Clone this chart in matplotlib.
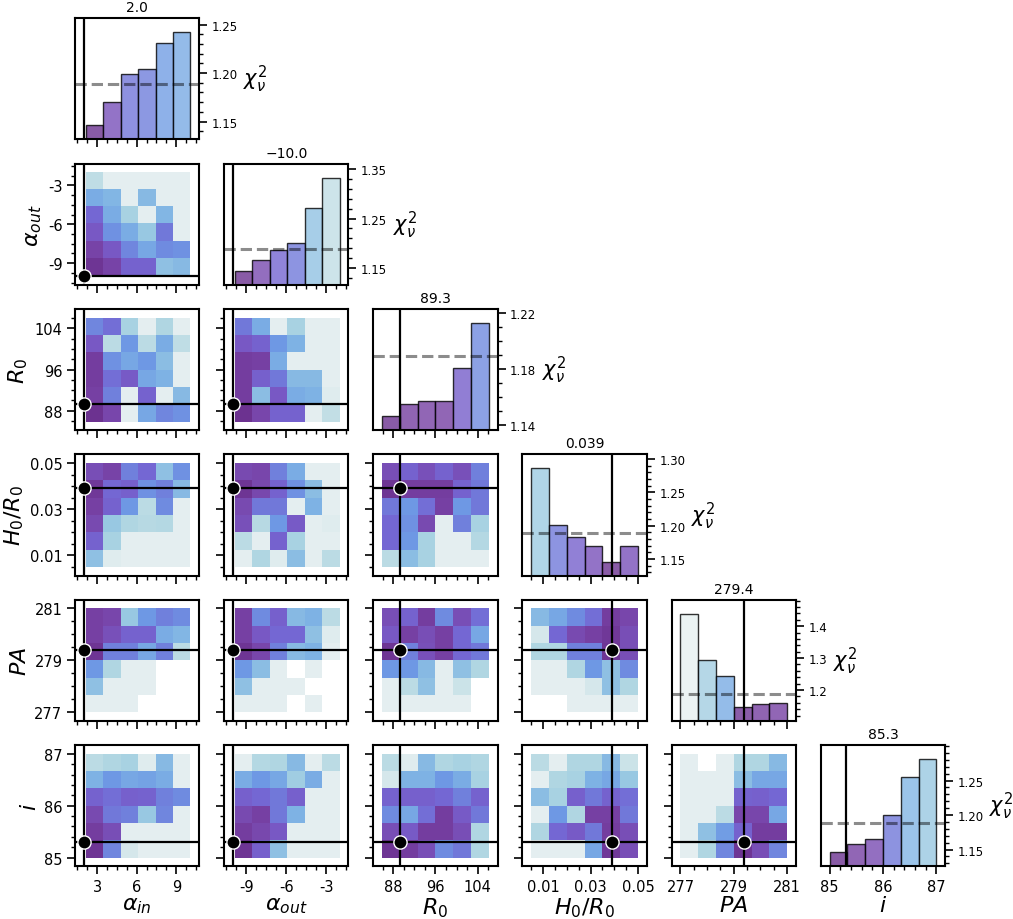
import numpy as np
import matplotlib
matplotlib.use("Agg")
import matplotlib.pyplot as plt
from matplotlib.colors import LinearSegmentedColormap, Normalize
from matplotlib.ticker import AutoMinorLocator, FixedLocator, FixedFormatter

nan = np.nan

# ---------------------------------------------------------------- parameters
labels = [r"$\alpha_{in}$", r"$\alpha_{out}$", r"$R_0$", r"$H_0/R_0$", r"$PA$", r"$i$"]
best = [2.0, -10.0, 89.3, 0.039, 279.4, 85.3]
best_fmt = ["{:.1f}", "{:.1f}", "{:.1f}", "{:.3f}", "{:.1f}", "{:.1f}"]
grid_lo = [2.17, -9.88, 85.9, 0.005, 277.0, 85.0]
grid_hi = [10.07, -2.0, 106.1, 0.05, 281.0, 87.0]
param_ticks = [[3, 6, 9], [-9, -6, -3], [88, 96, 104], [0.01, 0.03, 0.05],
               [277, 279, 281], [85, 86, 87]]
param_ticklabels = [["3", "6", "9"], ["-9", "-6", "-3"], ["88", "96", "104"],
                    ["0.01", "0.03", "0.05"], ["277", "279", "281"], ["85", "86", "87"]]

chi2_threshold = 1.189

# ------------------------------------------------------- 1D minimum chi2 per bin
hist_alpha_in = [1.146, 1.170, 1.199, 1.204, 1.231, 1.242]
hist_alpha_out = [1.144, 1.165, 1.187, 1.201, 1.272, 1.333]
hist_R0 = [1.146, 1.155, 1.157, 1.157, 1.181, 1.213]
hist_H0R0 = [1.286, 1.201, 1.183, 1.170, 1.146, 1.169]
hist_PA = [1.439, 1.293, 1.243, 1.147, 1.155, 1.158]
hist_inc = [1.146, 1.158, 1.166, 1.200, 1.255, 1.281]
hist_values = [hist_alpha_in, hist_alpha_out, hist_R0, hist_H0R0, hist_PA, hist_inc]

hist_yticks = [[1.15, 1.20, 1.25], [1.15, 1.25, 1.35], [1.14, 1.18, 1.22],
               [1.15, 1.20, 1.25, 1.30], [1.2, 1.3, 1.4], [1.15, 1.20, 1.25]]
hist_yticklabels = [["1.15", "1.20", "1.25"], ["1.15", "1.25", "1.35"],
                    ["1.14", "1.18", "1.22"], ["1.15", "1.20", "1.25", "1.30"],
                    ["1.2", "1.3", "1.4"], ["1.15", "1.20", "1.25"]]

# ------------------------------------------- 2D chi2 maps (top row = highest y)
chi2_aout_ain = [
    [1.33, 1.40, 1.40, 1.40, 1.40, 1.40],
    [1.245, 1.255, 1.40, 1.26, 1.40, 1.40],
    [1.19, 1.245, 1.30, 1.40, 1.255, 1.40],
    [1.175, 1.22, 1.245, 1.28, 1.20, 1.40],
    [1.16, 1.175, 1.21, 1.24, 1.215, 1.22],
    [1.148, 1.16, 1.185, 1.185, 1.27, 1.26]]

chi2_r0_ain = [
    [1.21, 1.195, 1.30, 1.40, 1.31, 1.40],
    [1.175, 1.325, 1.225, 1.325, 1.245, 1.33],
    [1.155, 1.22, 1.24, 1.225, 1.265, 1.40],
    [1.155, 1.195, 1.178, 1.24, 1.25, 1.40],
    [1.157, 1.205, 1.40, 1.185, 1.40, 1.26],
    [1.145, 1.162, 1.40, 1.24, 1.21, 1.22]]

chi2_r0_aout = [
    [1.20, 1.245, 1.40, 1.30, 1.40, 1.40],
    [1.175, 1.185, 1.225, 1.25, 1.40, 1.40],
    [1.155, 1.158, 1.245, 1.40, 1.40, 1.40],
    [1.155, 1.183, 1.20, 1.26, 1.26, 1.40],
    [1.155, 1.265, 1.175, 1.245, 1.25, 1.39],
    [1.145, 1.162, 1.185, 1.185, 1.40, 1.335]]

chi2_h_ain = [
    [1.168, 1.16, 1.205, 1.19, 1.27, 1.22],
    [1.15, 1.19, 1.183, 1.22, 1.205, 1.26],
    [1.158, 1.185, 1.225, 1.325, 1.215, 1.40],
    [1.165, 1.28, 1.31, 1.32, 1.315, 1.40],
    [1.185, 1.30, 1.40, 1.40, 1.40, 1.40],
    [1.27, 1.39, 1.40, 1.40, 1.40, 1.40]]

chi2_h_aout = [
    [1.165, 1.162, 1.205, 1.245, 1.40, 1.40],
    [1.148, 1.163, 1.185, 1.22, 1.265, 1.40],
    [1.165, 1.20, 1.20, 1.40, 1.25, 1.40],
    [1.17, 1.32, 1.225, 1.178, 1.40, 1.39],
    [1.325, 1.40, 1.185, 1.30, 1.40, 1.40],
    [1.40, 1.31, 1.39, 1.265, 1.40, 1.325]]

chi2_h_r0 = [
    [1.168, 1.185, 1.17, 1.185, 1.17, 1.205],
    [1.148, 1.155, 1.155, 1.155, 1.185, 1.20],
    [1.20, 1.225, 1.195, 1.157, 1.225, 1.20],
    [1.19, 1.22, 1.165, 1.40, 1.205, 1.30],
    [1.19, 1.225, 1.30, 1.40, 1.40, 1.315],
    [1.325, 1.265, 1.30, 1.40, 1.40, 1.40]]

chi2_pa_ain = [
    [1.157, 1.162, 1.28, 1.225, 1.205, 1.215],
    [1.157, 1.17, 1.185, 1.185, 1.245, 1.255],
    [1.148, 1.205, 1.205, 1.24, 1.205, 1.325],
    [1.225, 1.31, 1.40, 1.40, nan, nan],
    [1.27, 1.40, 1.40, 1.40, nan, nan],
    [1.40, 1.40, 1.40, nan, nan, nan]]

chi2_pa_aout = [
    [1.157, 1.215, 1.183, 1.26, 1.25, 1.325],
    [1.157, 1.175, 1.19, 1.19, 1.27, 1.39],
    [1.148, 1.162, 1.205, 1.26, 1.25, 1.40],
    [1.225, 1.265, 1.40, nan, 1.40, nan],
    [1.27, 1.40, 1.40, 1.40, nan, nan],
    [1.40, 1.40, 1.40, nan, 1.40, nan]]

chi2_pa_r0 = [
    [1.168, 1.185, 1.155, 1.215, 1.168, 1.195],
    [1.175, 1.157, 1.168, 1.157, 1.19, 1.24],
    [1.148, 1.205, 1.17, 1.157, 1.19, 1.20],
    [1.225, 1.225, 1.26, 1.40, 1.27, 1.31],
    [1.40, 1.325, 1.27, 1.40, 1.35, nan],
    [1.40, 1.40, 1.40, 1.40, 1.40, nan]]

chi2_pa_h = [
    [1.26, 1.24, 1.215, 1.195, 1.155, 1.162],
    [1.37, 1.19, 1.165, 1.158, 1.15, 1.168],
    [1.31, 1.31, 1.205, 1.205, 1.148, 1.168],
    [1.40, 1.40, 1.31, 1.225, 1.27, 1.215],
    [1.40, 1.40, 1.40, 1.37, 1.27, 1.31],
    [nan, nan, 1.40, 1.40, 1.40, 1.40]]

chi2_i_ain = [
    [1.325, 1.31, 1.30, 1.39, 1.26, 1.40],
    [1.25, 1.225, 1.24, 1.235, 1.245, 1.40],
    [1.185, 1.195, 1.183, 1.185, 1.205, 1.215],
    [1.165, 1.20, 1.205, 1.28, 1.21, 1.40],
    [1.155, 1.168, 1.40, 1.40, 1.40, 1.40],
    [1.148, 1.21, 1.37, 1.40, 1.40, 1.40]]

chi2_i_aout = [
    [1.40, 1.315, 1.31, 1.26, 1.40, 1.325],
    [1.245, 1.225, 1.24, 1.29, 1.245, 1.40],
    [1.183, 1.19, 1.20, 1.183, 1.40, 1.40],
    [1.165, 1.158, 1.20, 1.25, 1.40, 1.40],
    [1.155, 1.163, 1.175, 1.40, 1.40, 1.40],
    [1.148, 1.183, 1.27, 1.40, 1.40, 1.40]]

chi2_i_r0 = [
    [1.325, 1.39, 1.26, 1.31, 1.30, 1.31],
    [1.37, 1.25, 1.25, 1.225, 1.245, 1.30],
    [1.185, 1.183, 1.183, 1.19, 1.205, 1.185],
    [1.215, 1.24, 1.195, 1.155, 1.178, 1.20],
    [1.168, 1.178, 1.155, 1.155, 1.168, 1.31],
    [1.148, 1.155, 1.168, 1.215, 1.20, 1.31]]

chi2_i_h = [
    [1.325, 1.40, 1.31, 1.31, 1.26, 1.35],
    [1.40, 1.31, 1.30, 1.25, 1.24, 1.28],
    [1.265, 1.30, 1.183, 1.20, 1.185, 1.195],
    [1.40, 1.225, 1.31, 1.158, 1.158, 1.20],
    [1.31, 1.19, 1.178, 1.20, 1.155, 1.168],
    [1.40, 1.40, 1.40, 1.24, 1.15, 1.168]]

chi2_i_pa = [
    [1.40, nan, 1.40, 1.31, 1.31, 1.26],
    [1.40, 1.40, 1.40, 1.265, 1.24, 1.24],
    [1.40, 1.40, 1.40, 1.185, 1.183, 1.19],
    [1.40, 1.40, 1.325, 1.162, 1.162, 1.24],
    [1.40, 1.27, 1.23, 1.185, 1.155, 1.155],
    [1.40, 1.31, 1.21, 1.148, 1.168, 1.21]]

maps_2d = {
    (1, 0): chi2_aout_ain,
    (2, 0): chi2_r0_ain, (2, 1): chi2_r0_aout,
    (3, 0): chi2_h_ain, (3, 1): chi2_h_aout, (3, 2): chi2_h_r0,
    (4, 0): chi2_pa_ain, (4, 1): chi2_pa_aout, (4, 2): chi2_pa_r0, (4, 3): chi2_pa_h,
    (5, 0): chi2_i_ain, (5, 1): chi2_i_aout, (5, 2): chi2_i_r0, (5, 3): chi2_i_h,
    (5, 4): chi2_i_pa,
}

# ---------------------------------------------------------------- colour map
cmap_nodes = [(1.145, "#6c3290"), (1.160, "#7844a8"), (1.175, "#7858c4"),
              (1.190, "#7468d4"), (1.205, "#7080dc"), (1.225, "#6e98e4"),
              (1.250, "#7eb2e4"), (1.280, "#98c8e2"), (1.310, "#b0d6e2"),
              (1.340, "#c6e0e6"), (1.400, "#e4eef0"), (1.450, "#e8f0f0")]
vmin, vmax = cmap_nodes[0][0], cmap_nodes[-1][0]
cmap = LinearSegmentedColormap.from_list(
    "chi2", [((v - vmin) / (vmax - vmin), c) for v, c in cmap_nodes])
norm = Normalize(vmin=vmin, vmax=vmax, clip=True)

# ------------------------------------------------------------------- figure
n = 6
fig = plt.figure(figsize=(10.13, 9.2), dpi=100)
gs = fig.add_gridspec(n, n, left=0.074, right=0.933, top=0.979, bottom=0.0573,
                      wspace=0.2, hspace=0.2)

TICK_KW = dict(direction="out", color="black")


def limits(k):
    lo = min(grid_lo[k], best[k])
    hi = max(grid_hi[k], best[k])
    pad = 0.083 * (hi - lo)
    return lo - pad, hi + pad


def edges(k):
    return np.linspace(grid_lo[k], grid_hi[k], 7)


def style_axes(ax):
    for s in ax.spines.values():
        s.set_linewidth(1.5)
    ax.tick_params(which="major", length=5.5, width=1.2, **TICK_KW)
    ax.tick_params(which="minor", length=3.0, width=1.0, **TICK_KW)


def set_xaxis(ax, k, show_labels):
    ax.set_xlim(*limits(k))
    ax.xaxis.set_major_locator(FixedLocator(param_ticks[k]))
    ax.xaxis.set_minor_locator(AutoMinorLocator())
    if show_labels:
        ax.xaxis.set_major_formatter(FixedFormatter(param_ticklabels[k]))
        ax.set_xlabel(labels[k], fontsize=16, labelpad=1)
    else:
        ax.set_xticklabels([])
    ax.tick_params(axis="x", labelsize=10.5)


for r in range(n):
    for c in range(r + 1):
        ax = fig.add_subplot(gs[r, c])
        style_axes(ax)
        if r == c:
            # diagonal: minimum chi2 in each bin of this parameter
            vals = np.array(hist_values[c])
            e = edges(c)
            centers = 0.5 * (e[:-1] + e[1:])
            ax.bar(centers, vals, width=np.diff(e), color=cmap(norm(vals)),
                   alpha=0.8, edgecolor="black", linewidth=1.0, zorder=2)
            rng = vals.max() - vals.min()
            ax.set_ylim(vals.min() - 0.15 * rng, vals.max() + 0.15 * rng)
            ax.axhline(chi2_threshold, color="black", alpha=0.45, lw=2.2,
                       ls="--", zorder=3)
            ax.axvline(best[c], color="black", lw=1.6, zorder=4)
            set_xaxis(ax, c, r == n - 1)
            ax.yaxis.tick_right()
            ax.yaxis.set_major_locator(FixedLocator(hist_yticks[c]))
            ax.yaxis.set_major_formatter(FixedFormatter(hist_yticklabels[c]))
            ax.yaxis.set_minor_locator(AutoMinorLocator())
            ax.tick_params(axis="y", which="both", left=False, right=True,
                           labelsize=8.5)
            ax.yaxis.set_label_position("right")
            ax.set_ylabel(r"$\chi^2_\nu$", fontsize=15, rotation=0,
                          ha="left", va="center", labelpad=4)
            ax.set_title(best_fmt[c].format(best[c]).replace("-", "\u2212"),
                         fontsize=10, pad=5)
        else:
            data = np.flipud(np.array(maps_2d[(r, c)], dtype=float))
            ax.pcolormesh(edges(c), edges(r), np.ma.masked_invalid(data),
                          cmap=cmap, norm=norm, shading="flat", zorder=1)
            ax.axvline(best[c], color="black", lw=1.6, zorder=3)
            ax.axhline(best[r], color="black", lw=1.6, zorder=3)
            ax.plot(best[c], best[r], "o", ms=9.5, color="black", mec="white",
                    mew=1.0, zorder=5, clip_on=False)
            set_xaxis(ax, c, r == n - 1)
            ax.set_ylim(*limits(r))
            ax.yaxis.set_major_locator(FixedLocator(param_ticks[r]))
            ax.yaxis.set_minor_locator(AutoMinorLocator())
            if c == 0:
                ax.yaxis.set_major_formatter(FixedFormatter(param_ticklabels[r]))
                ax.set_ylabel(labels[r], fontsize=16, labelpad=3)
            else:
                ax.set_yticklabels([])
            ax.tick_params(axis="y", labelsize=10.5)

fig.savefig("out.png", dpi=100, facecolor="white")
